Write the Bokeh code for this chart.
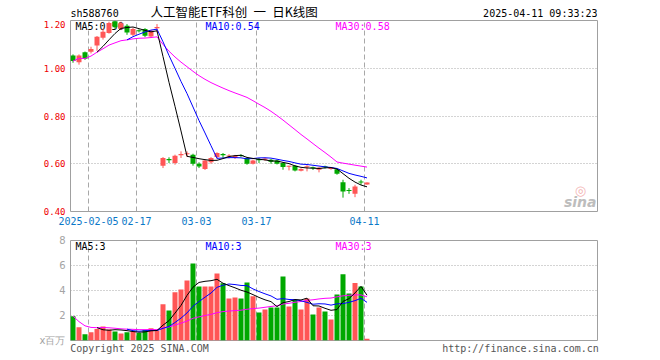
import numpy as np
import pandas as pd
from bokeh.plotting import figure
from bokeh.layouts import column
from bokeh.models import FixedTicker, ColumnDataSource, Range1d, NumeralTickFormatter
from bokeh.embed import file_html
from bokeh.resources import INLINE
from bokeh.core.properties import value

# ---------------- data ----------------
tick_idx = [3, 11, 21, 31, 49]
tick_labels = ["2025-02-05", "02-17", "03-03", "03-17", "04-11"]

open_ = [1.053, 1.025, 1.067, 1.069, 1.095, 1.128, 1.148, 1.197, 1.165, 1.178,
         1.140, 1.158, 1.164, 1.133, 1.168,
         0.592, 0.618, 0.603, 0.636, 0.640, 0.638, 0.600, 0.578, 0.606, 0.628,
         0.638, 0.630, 0.624, 0.634, 0.624, 0.600, 0.618, 0.617, 0.617, 0.614,
         0.603, 0.587, 0.592, 0.571, 0.585, 0.583, 0.575, 0.587, 0.578, 0.577,
         0.522, 0.488, 0.474, 0.524, 0.513]
high = [1.058, 1.058, 1.070, 1.090, 1.135, 1.165, 1.195, 1.199, 1.195, 1.185,
        1.170, 1.163, 1.168, 1.160, 1.185,
        0.628, 0.627, 0.638, 0.652, 0.652, 0.642, 0.606, 0.618, 0.628, 0.648,
        0.645, 0.640, 0.637, 0.640, 0.627, 0.617, 0.624, 0.625, 0.620, 0.617,
        0.606, 0.592, 0.594, 0.581, 0.594, 0.588, 0.586, 0.592, 0.586, 0.580,
        0.533, 0.498, 0.512, 0.533, 0.522]
low = [1.023, 1.015, 1.035, 1.062, 1.073, 1.120, 1.145, 1.165, 1.160, 1.140,
       1.135, 1.150, 1.130, 1.128, 1.150,
       0.582, 0.603, 0.596, 0.624, 0.628, 0.592, 0.582, 0.574, 0.600, 0.620,
       0.625, 0.622, 0.620, 0.628, 0.596, 0.597, 0.603, 0.612, 0.600, 0.597,
       0.575, 0.572, 0.568, 0.568, 0.568, 0.574, 0.564, 0.580, 0.575, 0.554,
       0.458, 0.474, 0.460, 0.512, 0.512]
close = [1.030, 1.053, 1.040, 1.081, 1.132, 1.153, 1.190, 1.172, 1.188, 1.150,
         1.164, 1.155, 1.136, 1.157, 1.173,
         0.624, 0.615, 0.634, 0.640, 0.643, 0.600, 0.589, 0.614, 0.624, 0.645,
         0.636, 0.632, 0.633, 0.632, 0.600, 0.614, 0.615, 0.620, 0.608, 0.600,
         0.586, 0.589, 0.572, 0.578, 0.587, 0.581, 0.583, 0.585, 0.583, 0.558,
         0.484, 0.486, 0.505, 0.521, 0.521]
volume = [1.95, 1.07, 0.50, 0.67, 0.93, 1.12, 0.88, 0.72, 0.56, 0.67,
          0.75, 0.61, 0.85, 0.99, 0.80, 2.90, 2.40, 3.87, 4.08, 4.80,
          6.16, 4.32, 4.32, 4.32, 5.36, 4.59, 3.36, 3.44, 3.36, 4.64,
          3.55, 2.24, 2.48, 2.64, 2.64, 5.12, 2.72, 3.25, 2.48, 3.36,
          2.08, 2.64, 2.32, 1.68, 3.68, 5.30, 3.76, 4.60, 4.32, 0.14]

RED = "#ff5656"
GREEN = "#00a800"
GRID = "#a8a8a8"
FRAME = "#a0a0a0"
MONO = "DejaVu Sans Mono"
W = 615
LB, RB = 70, W - 70 - 527

n = len(close)
idx = np.arange(n)
cx = idx + 5.0 / 12.0          # bar centre (bar occupies [i, i+5/6])
o = np.array(open_); c = np.array(close)
colors = [RED if c[i] > o[i] else GREEN for i in range(n)]
body_bot = np.minimum(o, c)
body_top = np.maximum(np.maximum(o, c), body_bot + 0.0045)

cs = pd.Series(close)
vs = pd.Series(volume)
src = ColumnDataSource(dict(
    x=cx, high=high, low=low, top=body_top, bot=body_bot, color=colors,
    vol=volume,
    ma5=cs.rolling(5).mean(), ma10=cs.rolling(10).mean(), ma30=cs.rolling(30, min_periods=1).mean(),
    vma5=vs.rolling(5).mean(), vma10=vs.rolling(10).mean(), vma30=vs.rolling(30, min_periods=1).mean(),
))

X_END = 527 / 6.0
xr = Range1d(0, X_END)

# ---------------- header strip (frame aligned with the panels: page x 70..597) ----------------
hdr = figure(width=W, height=20, x_range=Range1d(70, 597), y_range=Range1d(0, 20),
             x_axis_type=None, y_axis_type=None, output_backend="svg", toolbar_location=None,
             min_border_left=LB, min_border_right=RB, min_border_top=0, min_border_bottom=0)
hdr.outline_line_color = None
hdr.grid.visible = False
hdr.text(x=[70], y=[7.5], text=["sh588760"], text_font=value(MONO), text_font_size="10px",
         text_color="black", text_baseline="middle")
hdr.text(x=[150], y=[9.2], text=["人工智能ETF科创\u2002一\u2002日K线图"], text_font=value("Noto Sans CJK SC"),
         text_font_size="12.5px", text_color="black", text_baseline="middle")
hdr.text(x=[597], y=[7.5], text=["2025-04-11 09:33:23"], text_font=value(MONO), text_font_size="10px",
         text_color="black", text_baseline="middle", text_align="right")

# ---------------- price panel ----------------
p = figure(width=W, height=210, x_range=xr, y_range=Range1d(0.40, 1.20),
           output_backend="svg", toolbar_location=None,
           min_border_left=LB, min_border_right=RB, min_border_top=0, min_border_bottom=19)
p.outline_line_color = FRAME
p.background_fill_color = "white"
p.border_fill_color = "white"

p.yaxis.ticker = FixedTicker(ticks=[0.4, 0.6, 0.8, 1.0, 1.2])
p.yaxis.formatter = NumeralTickFormatter(format="0.00")
p.yaxis.axis_line_color = None
p.yaxis.major_tick_line_color = None
p.yaxis.minor_tick_line_color = None
p.yaxis.major_tick_out = 0
p.yaxis.major_tick_in = 0
p.yaxis.major_label_text_color = "#ee0000"
p.yaxis.major_label_text_font = MONO
p.yaxis.major_label_text_font_size = "9px"
p.yaxis.major_label_standoff = 5

p.xaxis.ticker = FixedTicker(ticks=tick_idx)
p.xaxis.major_label_overrides = {t: l for t, l in zip(tick_idx, tick_labels)}
p.xaxis.axis_line_color = None
p.xaxis.major_tick_line_color = None
p.xaxis.minor_tick_line_color = None
p.xaxis.major_tick_out = 0
p.xaxis.major_tick_in = 0
p.xaxis.major_label_text_color = "#0a78c8"
p.xaxis.major_label_text_font = MONO
p.xaxis.major_label_text_font_size = "10px"
p.xaxis.major_label_standoff = 5

p.xgrid.ticker = FixedTicker(ticks=tick_idx)
p.xgrid.grid_line_color = GRID
p.xgrid.grid_line_dash = "5 3"
p.ygrid.ticker = FixedTicker(ticks=[0.6, 0.8, 1.0])
p.ygrid.grid_line_color = GRID
p.ygrid.grid_line_dash = "1 2"

my = 1.20 - 6 / 238.75
p.text(x=[5 / 6.0], y=[my], text=["MA5:0.50"], text_font=value(MONO),
       text_font_size="10px", text_color="black", text_baseline="middle")
p.text(x=[135 / 6.0], y=[my], text=["MA10:0.54"], text_font=value(MONO),
       text_font_size="10px", text_color="#0000ff", text_baseline="middle")
p.text(x=[265 / 6.0], y=[my], text=["MA30:0.58"], text_font=value(MONO),
       text_font_size="10px", text_color="#ff00ff", text_baseline="middle")

# sina watermark
p.text(x=[X_END - 17 / 6.0], y=[1.20 - 170 / 238.75], text=["◎"], text_font=value("DejaVu Sans"),
       text_font_size="13px", text_color="#f3b4b4", text_align="center", text_baseline="middle")
p.text(x=[X_END - 1 / 6.0], y=[1.20 - 181 / 238.75], text=["sina"], text_font=value("DejaVu Sans"),
       text_font_size="14px", text_font_style="bold italic", text_color="#bdbdbd",
       text_align="right", text_baseline="middle")

p.segment(x0="x", y0="low", x1="x", y1="high", line_color="color", line_width=1, source=src)
p.vbar(x="x", width=5 / 6.0, top="top", bottom="bot", fill_color="color", line_color=None, source=src)
p.line("x", "ma30", source=src, line_color="#ff00ff", line_width=1)
p.line("x", "ma10", source=src, line_color="#0000ff", line_width=1)
p.line("x", "ma5", source=src, line_color="black", line_width=1)

# ---------------- volume panel (with footer) ----------------
q = figure(width=W, height=130, x_range=xr, y_range=Range1d(0, 8),
           output_backend="svg", toolbar_location=None,
           min_border_left=LB, min_border_right=RB, min_border_top=10, min_border_bottom=20)
q.outline_line_color = FRAME
q.background_fill_color = "white"
q.border_fill_color = "white"

q.yaxis.ticker = FixedTicker(ticks=[0, 2, 4, 6, 8])
q.yaxis.major_label_overrides = {0: "x百万"}
q.yaxis.axis_line_color = None
q.yaxis.major_tick_line_color = None
q.yaxis.minor_tick_line_color = None
q.yaxis.major_tick_out = 0
q.yaxis.major_tick_in = 0
q.yaxis.major_label_text_color = "#a4a4a4"
q.yaxis.major_label_text_font = "DejaVu Sans"
q.yaxis.major_label_text_font_size = "10px"
q.yaxis.major_label_standoff = 5

foot_ticks = [11.5, 75.0]
q.xaxis.ticker = FixedTicker(ticks=foot_ticks)
q.xaxis.major_label_overrides = {11.5: "Copyright 2025 SINA.COM", 75.0: "http://finance.sina.com.cn"}
q.xaxis.axis_line_color = None
q.xaxis.major_tick_line_color = None
q.xaxis.minor_tick_line_color = None
q.xaxis.major_tick_out = 0
q.xaxis.major_tick_in = 0
q.xaxis.major_label_text_color = "#555555"
q.xaxis.major_label_text_font = MONO
q.xaxis.major_label_text_font_size = "10px"
q.xaxis.major_label_standoff = 2

q.xgrid.ticker = FixedTicker(ticks=tick_idx)
q.xgrid.grid_line_color = GRID
q.xgrid.grid_line_dash = "5 3"
q.ygrid.ticker = FixedTicker(ticks=[2, 4, 6])
q.ygrid.grid_line_color = GRID
q.ygrid.grid_line_dash = "1 2"

vy = 8 - 6 / 12.5
q.text(x=[5 / 6.0], y=[vy], text=["MA5:3"], text_font=value(MONO), text_font_size="10px",
       text_color="black", text_baseline="middle")
q.text(x=[135 / 6.0], y=[vy], text=["MA10:3"], text_font=value(MONO), text_font_size="10px",
       text_color="#0000ff", text_baseline="middle")
q.text(x=[265 / 6.0], y=[vy], text=["MA30:3"], text_font=value(MONO), text_font_size="10px",
       text_color="#ff00ff", text_baseline="middle")

q.vbar(x="x", width=5 / 6.0, top="vol", bottom=0, fill_color="color", line_color=None, source=src)
q.line("x", "vma30", source=src, line_color="#ff00ff", line_width=1)
q.line("x", "vma10", source=src, line_color="#0000ff", line_width=1)
q.line("x", "vma5", source=src, line_color="black", line_width=1)

layout = column(hdr, p, q, spacing=0)
open("out.html", "w").write(file_html(layout, INLINE))
